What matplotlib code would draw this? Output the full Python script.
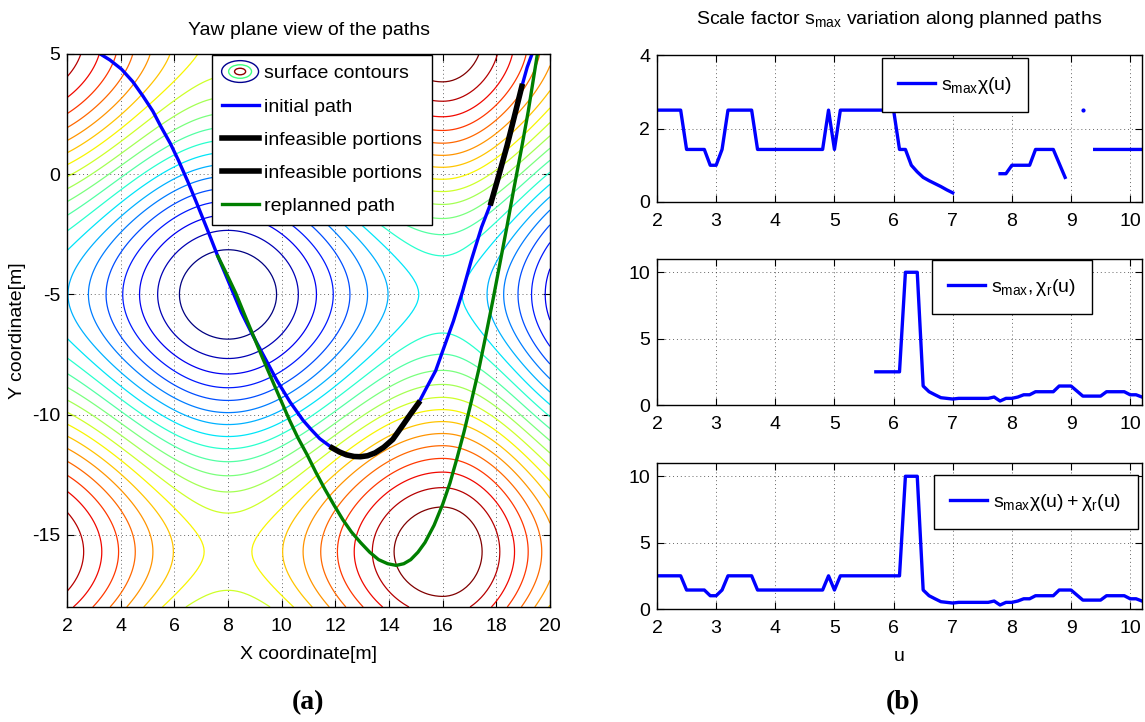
import numpy as np
import matplotlib
matplotlib.use("Agg")
import matplotlib.pyplot as plt
from matplotlib.legend_handler import HandlerBase
from matplotlib.patches import Ellipse
from matplotlib.lines import Line2D

plt.rcParams['font.family'] = ['Liberation Sans Narrow', 'Liberation Sans', 'DejaVu Sans']
plt.rcParams['mathtext.fontset'] = 'custom'
plt.rcParams['mathtext.rm'] = 'Liberation Sans'
plt.rcParams['mathtext.it'] = 'Liberation Sans'
plt.rcParams['mathtext.default'] = 'regular'
plt.rcParams['axes.unicode_minus'] = False
plt.rcParams['xtick.direction'] = 'in'
plt.rcParams['ytick.direction'] = 'in'

# ---- yaw plane surface (cosine bowl, warped in x) ----
surf_xknots = [0.0, 8.0, 16.0, 22.5]
surf_phase = [-np.pi, 0.0, np.pi, 2 * np.pi]
surf_yperiod = 21.4
surf_ycenter = -5.0
surf_ax, surf_ay = 0.75, 1.25
n_levels = 21

# ---- paths in the yaw plane ----
init_x = [3.24, 3.6, 4.03, 4.45, 4.83, 5.2, 5.5, 5.85, 6.16, 6.5, 6.83, 7.23, 7.62, 7.9, 8.2, 8.5,
          8.9, 9.33, 9.82, 10.31, 10.8, 11.1, 11.42, 11.88, 12.15, 12.41, 12.7, 12.94, 13.2, 13.48,
          13.8, 14.14, 14.54, 14.8, 15.1, 15.4, 15.74, 16.05, 16.4, 16.75, 17.07, 17.45, 17.8, 18.1,
          18.4, 18.65, 18.95, 19.15, 19.33]
init_y = [5.0, 4.75, 4.37, 3.85, 3.25, 2.62, 1.98, 1.28, 0.56, -0.3, -1.19, -2.3, -3.41, -4.15, -4.95, -5.75,
          -6.65, -7.55, -8.57, -9.47, -10.24, -10.62, -11.0, -11.38, -11.55, -11.67, -11.74, -11.75, -11.71, -11.59,
          -11.36, -11.03, -10.4, -9.98, -9.52, -8.88, -8.17, -7.2, -6.11, -4.85, -3.57, -2.2, -1.19, -0.02,
          1.19, 2.3, 3.65, 4.45, 5.0]
# x spans of the initial path flagged as infeasible
infeasible_spans = [(11.88, 15.1), (17.8, 18.95)]

replan_x = [7.62, 7.95, 8.29, 8.62, 8.96, 9.28, 9.62, 9.95, 10.28, 10.6, 10.95, 11.28, 11.61, 11.95,
            12.28, 12.6, 12.94, 13.28, 13.61, 13.95, 14.27, 14.55, 14.81, 15.08, 15.34, 15.68, 16.0,
            16.27, 16.53, 16.8, 17.07, 17.35, 17.6, 17.87, 18.13, 18.4, 18.66, 18.93, 19.19, 19.53]
replan_y = [-3.41, -4.15, -4.95, -5.85, -6.76, -7.62, -8.5, -9.35, -10.2, -10.95, -11.67, -12.41, -13.1, -13.76,
            -14.37, -14.88, -15.32, -15.72, -16.03, -16.2, -16.27, -16.2, -16.03, -15.72, -15.32, -14.6, -13.73,
            -12.85, -11.83, -10.7, -9.44, -8.1, -6.75, -5.25, -3.73, -2.15, -0.56, 1.02, 2.62, 5.0]

# ---- scale factors along u ----
u_chi = [2.0, 2.4, 2.5, 2.8, 2.9, 3.0, 3.1, 3.2, 3.6, 3.7, 4.8, 4.9, 5.0, 5.1, 6.0, 6.1, 6.2, 6.3, 6.4,
         6.5, 6.6, 6.7, 6.8, 6.9, 7.0, 7.1, 7.8, 7.9, 8.0, 8.3, 8.4, 8.7, 8.9, 9.0, 9.2, 9.3, 9.4, 10.2]
s_chi = [2.5, 2.5, 1.43, 1.43, 1.0, 1.0, 1.43, 2.5, 2.5, 1.43, 1.43, 2.5, 1.43, 2.5, 2.5, 1.43, 1.43, 1.0, 0.82,
         0.67, 0.58, 0.5, 0.42, 0.33, 0.25, np.nan, 0.77, 0.77, 1.0, 1.0, 1.43, 1.43, 0.67, np.nan, 2.5, np.nan,
         1.43, 1.43]

u_chir = [5.7, 6.1, 6.2, 6.4, 6.5, 6.6, 6.7, 6.8, 7.0, 7.1, 7.6, 7.7, 7.8, 7.9, 8.0, 8.1, 8.2, 8.3, 8.4,
          8.7, 8.8, 9.0, 9.2, 9.5, 9.6, 9.9, 10.0, 10.1, 10.2]
s_chir = [2.5, 2.5, 10, 10, 1.43, 1.0, 0.77, 0.55, 0.45, 0.5, 0.5, 0.6, 0.3, 0.5, 0.5, 0.6, 0.77, 0.77, 1.0,
          1.0, 1.43, 1.43, 0.67, 0.67, 1.0, 1.0, 0.77, 0.77, 0.6]

u_sum = [2.0, 2.4, 2.5, 2.8, 2.9, 3.0, 3.1, 3.2, 3.6, 3.7, 4.8, 4.9, 5.0, 5.1, 6.1, 6.2, 6.4, 6.5, 6.6,
         6.7, 6.8, 7.0, 7.1, 7.6, 7.7, 7.8, 7.9, 8.0, 8.1, 8.2, 8.3, 8.4, 8.7, 8.8, 9.0, 9.2, 9.5, 9.6,
         9.9, 10.0, 10.1, 10.2]
s_sum = [2.5, 2.5, 1.43, 1.43, 1.0, 1.0, 1.43, 2.5, 2.5, 1.43, 1.43, 2.5, 1.43, 2.5, 2.5, 10, 10, 1.43, 1.0,
         0.77, 0.55, 0.45, 0.5, 0.5, 0.6, 0.3, 0.5, 0.5, 0.6, 0.77, 0.77, 1.0, 1.0, 1.43, 1.43, 0.67, 0.67, 1.0,
         1.0, 0.77, 0.77, 0.6]

W, H = 1145, 722
FS = 14


class HandlerRings(HandlerBase):
    def create_artists(self, legend, orig_handle, xdescent, ydescent, width, height, fontsize, trans):
        cx = width / 2 - xdescent
        cy = height / 2 - ydescent
        arts = []
        for f, c in zip([1.0, 0.62, 0.3], ['#00008f', '#40ff80', '#8f0000']):
            arts.append(Ellipse((cx, cy), width * f, height * 1.6 * f, fill=False, ec=c, lw=1.0,
                                transform=trans))
        return arts


def px_axes(left, top, right, bottom):
    return fig.add_axes([left / W, 1 - bottom / H, (right - left) / W, (bottom - top) / H])


def matlab_grid(ax):
    ax.grid(True, color='k', linestyle=(0, (1, 3)), linewidth=0.7, alpha=0.6)
    ax.tick_params(top=True, right=True, labelsize=FS, length=5, width=0.8, pad=5)
    ax.tick_params(axis='x', pad=8)
    for sp in ax.spines.values():
        sp.set_linewidth(1.0)


def boxed_legend(ax, center_top, handles=None, labels=None, **kw):
    args = () if handles is None else (handles, labels)
    lg = ax.legend(*args, loc='upper center', bbox_to_anchor=(center_top[0] / W, 1 - center_top[1] / H),
                   bbox_transform=fig.transFigure, fontsize=FS, fancybox=False, framealpha=1,
                   edgecolor='k', borderaxespad=0, handlelength=1.9, handletextpad=0.3, **kw)
    lg.get_frame().set_linewidth(1.0)
    return lg


fig = plt.figure(figsize=(W / 100, H / 100), dpi=100)

# ---- (a) yaw plane ----
ax = px_axes(67, 54, 550, 607)
gx = np.linspace(2, 20, 140)
gy = np.linspace(-18, 5, 170)
X, Y = np.meshgrid(gx, gy)
Z = -surf_ax * np.cos(np.interp(X, surf_xknots, surf_phase)) \
    - surf_ay * np.cos(np.pi * (Y - surf_ycenter) / (surf_yperiod / 2))
ax.contour(X, Y, Z, levels=np.linspace(-surf_ax - surf_ay, surf_ax + surf_ay, n_levels + 2)[1:-1],
           cmap='jet', linewidths=0.9)

ix = np.array(init_x)
iy = np.array(init_y)
ax.plot(ix, iy, color='#0000ff', lw=2.4)
for x0, x1 in infeasible_spans:
    m = (ix >= x0) & (ix <= x1)
    ax.plot(ix[m], iy[m], color='k', lw=4)
ax.plot(replan_x, replan_y, color='#007f00', lw=2.4)

ax.set_xlim(2, 20)
ax.set_ylim(-18, 5)
ax.set_xticks(np.arange(2, 21, 2))
ax.set_yticks([-15, -10, -5, 0, 5])
matlab_grid(ax)
ax.set_title('Yaw plane view of the paths', fontsize=FS, pad=14)
ax.set_xlabel('X coordinate[m]', fontsize=FS, labelpad=8)
ax.set_ylabel('Y coordinate[m]', fontsize=FS, labelpad=4)

handles = [Ellipse((0, 0), 1, 1),
           Line2D([], [], color='#0000ff', lw=2.4),
           Line2D([], [], color='k', lw=4),
           Line2D([], [], color='k', lw=4),
           Line2D([], [], color='#007f00', lw=2.4)]
labels = ['surface contours', 'initial path', 'infeasible portions', 'infeasible portions', 'replanned path']
boxed_legend(ax, (322, 55), handles, labels, handler_map={Ellipse: HandlerRings()},
             labelspacing=0.8, borderpad=0.5)

# ---- (b) scale factors ----
panels = [
    (u_chi, s_chi, (55, 202), (0, 4), [0, 2, 4], r'$s_{max}\chi(u)$', (955, 58)),
    (u_chir, s_chir, (259, 405), (0, 11), [0, 5, 10], r'$s_{max},\chi_r(u)$', (1012, 260)),
    (u_sum, s_sum, (463, 609), (0, 11), [0, 5, 10], r'$s_{max}\chi(u)+\chi_r(u)$', (1036, 475)),
]
for i, (u, s, (top, bot), ylim, yt, lab, corner) in enumerate(panels):
    bx = px_axes(657, top, 1142, bot)
    bx.plot(u, s, color='#0000ff', lw=2.4, label=lab)
    sv = np.array(s, dtype=float)
    lone = [k for k in range(len(sv)) if np.isfinite(sv[k])
            and (k == 0 or np.isnan(sv[k - 1])) and (k == len(sv) - 1 or np.isnan(sv[k + 1]))]
    if lone:
        bx.plot(np.array(u)[lone], sv[lone], 'o', color='#0000ff', ms=2)
    bx.set_xlim(2, 10.2)
    bx.set_ylim(*ylim)
    bx.set_xticks(np.arange(2, 11, 1))
    bx.set_yticks(yt)
    matlab_grid(bx)
    boxed_legend(bx, corner, borderpad=0.85)
    if i == 0:
        bx.set_title(r'Scale factor $s_{max}$ variation along planned paths', fontsize=FS, pad=22)
    if i == 2:
        bx.set_xlabel('u', fontsize=FS, labelpad=8)

fig.text(308 / W, 1 - 703 / H, '(a)', fontsize=20, fontweight='bold',
         family='Liberation Serif', ha='center', va='center')
fig.text(903 / W, 1 - 703 / H, '(b)', fontsize=20, fontweight='bold',
         family='Liberation Serif', ha='center', va='center')

fig.savefig('out.png', dpi=100)
